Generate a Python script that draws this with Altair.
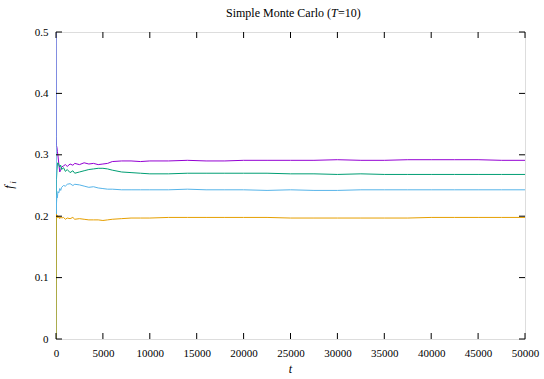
import altair as alt
import pandas as pd

# ---- data ----
t_vals = [0, 20, 50, 100, 150, 200, 300, 400, 500, 600, 800, 1000, 1200, 1500, 1800,
          2000, 2500, 3000, 3500, 4000, 4500, 5000, 5500, 6000, 7000, 8000, 9000, 10000,
          12000, 14000, 16000, 18000, 20000, 22500, 25000, 27500, 30000, 32500, 35000,
          37500, 40000, 42500, 45000, 47500, 50000]

f_purple = [0.5, 0.33, 0.315, 0.312, 0.305, 0.30, 0.285, 0.272, 0.276, 0.28, 0.282, 0.284,
            0.281, 0.285, 0.283, 0.286, 0.284, 0.287, 0.285, 0.286, 0.284, 0.285, 0.286,
            0.289, 0.290, 0.290, 0.289, 0.290, 0.290, 0.291, 0.290, 0.290, 0.291, 0.291,
            0.291, 0.291, 0.292, 0.291, 0.291, 0.292, 0.292, 0.292, 0.292, 0.291, 0.291]

f_green = [0.0, 0.22, 0.26, 0.275, 0.285, 0.287, 0.284, 0.280, 0.283, 0.276, 0.279, 0.273,
           0.276, 0.271, 0.274, 0.270, 0.272, 0.274, 0.276, 0.277, 0.278, 0.278, 0.277,
           0.275, 0.272, 0.271, 0.270, 0.269, 0.269, 0.270, 0.270, 0.270, 0.270, 0.270,
           0.269, 0.269, 0.268, 0.269, 0.268, 0.268, 0.268, 0.268, 0.268, 0.268, 0.268]

f_blue = [0.5, 0.20, 0.22, 0.235, 0.23, 0.24, 0.238, 0.245, 0.242, 0.247, 0.25, 0.249,
          0.252, 0.253, 0.25, 0.252, 0.251, 0.249, 0.247, 0.248, 0.246, 0.245, 0.244,
          0.244, 0.243, 0.243, 0.243, 0.243, 0.243, 0.244, 0.243, 0.243, 0.243, 0.242,
          0.243, 0.242, 0.242, 0.243, 0.243, 0.243, 0.243, 0.243, 0.243, 0.243, 0.243]

f_orange = [0.0, 0.20, 0.203, 0.198, 0.201, 0.197, 0.20, 0.196, 0.199, 0.197, 0.198, 0.195,
            0.197, 0.196, 0.198, 0.195, 0.196, 0.195, 0.194, 0.194, 0.194, 0.193, 0.194,
            0.195, 0.196, 0.197, 0.197, 0.197, 0.198, 0.198, 0.198, 0.198, 0.198, 0.198,
            0.197, 0.197, 0.197, 0.197, 0.197, 0.197, 0.198, 0.198, 0.198, 0.198, 0.198]

series_names = ["s1", "s2", "s3", "s4"]
series_colors = ["#9400D3", "#009E73", "#56B4E9", "#E69F00"]

x_ticks = [0, 5000, 10000, 15000, 20000, 25000, 30000, 35000, 40000, 45000, 50000]
y_ticks = [0, 0.1, 0.2, 0.3, 0.4, 0.5]

# ---- build table ----
rows = []
for name, vals in zip(series_names, [f_purple, f_green, f_blue, f_orange]):
    assert len(vals) == len(t_vals)
    for i, (t, f) in enumerate(zip(t_vals, vals)):
        rows.append({"t": t, "f": f, "s": name, "k": i})
df = pd.DataFrame(rows)

W, H = 469, 307
FONT = "Liberation Serif"

xs = alt.Scale(domain=[0, 50000], nice=False, zero=False)
ys = alt.Scale(domain=[0, 0.5], nice=False)

ax_x = alt.Axis(values=x_ticks, format="d", title=None, grid=False, domain=False, ticks=False,
                labelFont=FONT, labelFontSize=11, labelColor="black", labelPadding=8,
                labelFlush=False)
ax_y = alt.Axis(values=y_ticks, title=None, grid=False, domain=False, ticks=False,
                labelExpr="datum.value == 0 ? '0' : format(datum.value, '.1f')",
                labelFont=FONT, labelFontSize=11, labelColor="black", labelPadding=8)

lines = alt.Chart(df).mark_line(strokeWidth=1, clip=True).encode(
    x=alt.X("t:Q", scale=xs, axis=ax_x),
    y=alt.Y("f:Q", scale=ys, axis=ax_y),
    color=alt.Color("s:N", scale=alt.Scale(domain=series_names, range=series_colors), legend=None),
    order=alt.Order("k:Q"),
)

xt = pd.DataFrame({"t": x_ticks})
yt = pd.DataFrame({"f": y_ticks})
TL = 6
xtick_b = alt.Chart(xt).mark_rule(color="black", strokeWidth=1).encode(
    x=alt.X("t:Q", scale=xs, axis=ax_x), y=alt.value(H), y2=alt.value(H - TL))
xtick_t = alt.Chart(xt).mark_rule(color="black", strokeWidth=1).encode(
    x=alt.X("t:Q", scale=xs, axis=ax_x), y=alt.value(0), y2=alt.value(TL))
ytick_l = alt.Chart(yt).mark_rule(color="black", strokeWidth=1).encode(
    y=alt.Y("f:Q", scale=ys, axis=ax_y), x=alt.value(0), x2=alt.value(TL))
ytick_r = alt.Chart(yt).mark_rule(color="black", strokeWidth=1).encode(
    y=alt.Y("f:Q", scale=ys, axis=ax_y), x=alt.value(W), x2=alt.value(W - TL))

one = pd.DataFrame({"a": [0]})

def label(text, x, y, size=12, style="normal", align="left", angle=0, baseline="alphabetic"):
    return alt.Chart(one).mark_text(
        text=text, font=FONT, fontSize=size, fontStyle=style, align=align,
        baseline=baseline, angle=angle, color="black"
    ).encode(x=alt.value(x), y=alt.value(y))

TX = 275
title_parts = [
    label("Simple Monte Carlo (", TX, -15, align="right"),
    label("T", TX, -15, style="italic"),
    label("=10)", TX + 7, -15),
]
xlab = label("t", W / 2, 341, style="italic", align="center")
ylab_f = label("f", -43, 155, style="italic", angle=270, align="center")
ylab_i = label("i", -40.5, 150.5, size=9, style="italic", angle=270, align="center")

chart = alt.layer(
    lines, xtick_b, xtick_t, ytick_l, ytick_r, *title_parts, xlab, ylab_f, ylab_i
).properties(
    width=W, height=H,
    autosize=alt.AutoSizeParams(type="none"),
    padding={"left": 56, "top": 32, "right": 544 - 56 - W, "bottom": 379 - 32 - H},
).configure_view(stroke="black", strokeWidth=1).configure_axis(
    labelFont=FONT, labelFontSize=11, labelColor="black"
).configure_text(font=FONT).configure(background="white", font=FONT)

chart.save("out.html", embed_options={"renderer": "svg", "actions": False})
